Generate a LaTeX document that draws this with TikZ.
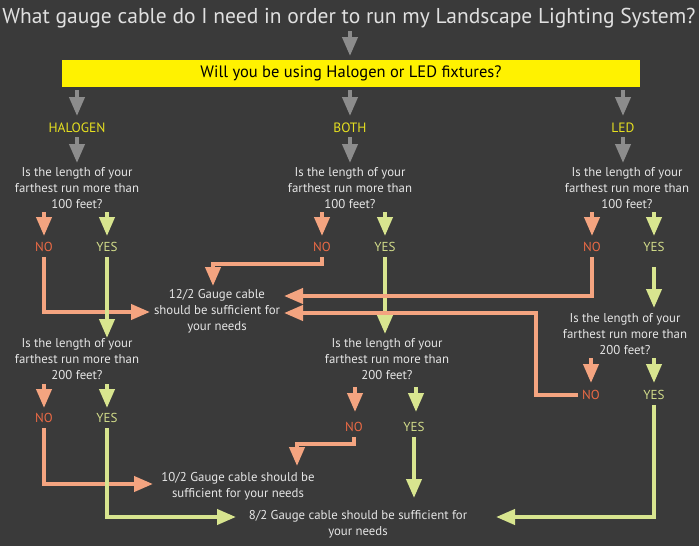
\documentclass[tikz,border=0pt]{standalone}
\usepackage{fontspec}
\setmainfont{PT Sans}
\usetikzlibrary{arrows.meta}
\definecolor{bg}{HTML}{3A3A3A}
\definecolor{gr}{HTML}{8C8C8C}
\definecolor{sal}{HTML}{F4A480}
\definecolor{lime}{HTML}{D8E58F}
\definecolor{notx}{HTML}{EB6A45}
\definecolor{yestx}{HTML}{D2DC8A}
\definecolor{ylw}{HTML}{FFF200}
\definecolor{hal}{HTML}{E6E020}
\begin{document}
\begin{tikzpicture}[x=1pt,y=-1pt,
 arr/.style={line width=4pt,-{Triangle[width=15pt,length=19pt]}},
 ga/.style={arr,draw=gr},
 sa/.style={arr,draw=sal},
 la/.style={arr,draw=lime},
 q/.style={text=white!90!black,align=center,font=\fontsize{12.8}{16}\selectfont,inner sep=1pt},
 no/.style={text=notx,font=\fontsize{13}{14}\selectfont,inner sep=1pt},
 yes/.style={text=yestx,font=\fontsize{13}{14}\selectfont,inner sep=1pt},
 cat/.style={text=hal,font=\fontsize{13.5}{14}\selectfont,inner sep=1pt}]
\fill[bg] (0,0) rectangle (699,546);
\useasboundingbox (0,0) rectangle (699,546);
\node[text=white!88!black,font=\fontsize{21.5}{24}\selectfont] (title) at (349,18) {What gauge cable do I need in order to run my Landscape Lighting System?};
\node[fill=ylw,minimum width=578pt,minimum height=27pt,inner sep=0pt,font=\fontsize{16.5}{18}\selectfont] (box) at (351,73.5) {Will you be using Halogen or LED fixtures?};
\draw[ga] (350,31) -- (350,56);
\node[cat] (hal) at (77,128) {HALOGEN};
\node[cat] (both) at (350,128) {BOTH};
\node[cat] (led) at (623,128) {LED};
\foreach \x in {77,350,623}{\draw[ga] (\x,90) -- (\x,116); \draw[ga] (\x,137) -- (\x,163);}
\node[q] (q1) at (77,188) {Is the length of your\\farthest run more than\\100 feet?};
\node[q] (q2) at (350,188) {Is the length of your\\farthest run more than\\100 feet?};
\node[q] (q3) at (627,188) {Is the length of your\\farthest run more than\\100 feet?};
% 100 ft answers
\node[no] (n1) at (44,247) {NO}; \node[yes] (y1) at (107,247) {YES};
\node[no] (n2) at (322,247) {NO}; \node[yes] (y2) at (385,247) {YES};
\node[no] (n3) at (592,247) {NO}; \node[yes] (y3) at (654,247) {YES};
\foreach \x in {44,322,592}{\draw[sa] (\x,212) -- (\x,236);}
\foreach \x in {107,385,654}{\draw[la] (\x,212) -- (\x,236);}
\node[q] (c12) at (217,311) {12/2 Gauge cable\\should be sufficient for\\your needs};
\node[q] (q4) at (77,359) {Is the length of your\\farthest run more than\\200 feet?};
\node[q] (q5) at (387,359) {Is the length of your\\farthest run more than\\200 feet?};
\node[q] (q6) at (625,334) {Is the length of your\\farthest run more than\\200 feet?};
\node[q] (c10) at (238,486) {10/2 Gauge cable should be\\sufficient for your needs};
\node[q] (c8) at (358,524) {8/2 Gauge cable should be sufficient for\\your needs};
% routes
\draw[sa] (n1.south) ++(0,4) |- (150,312);
\draw[la] (y1.south) ++(0,4) -- (107,338);
\draw[sa] (n2.south) ++(0,4) |- (213,264) -- (213,286);
\draw[la] (y2.south) ++(0,4) -- (385,334);
\draw[sa] (n3.south) ++(0,4) |- (284,296);
\draw[la] (y3.south) ++(0,14) -- (654,308);
% 200 answers
\node[no] (n4) at (44,418) {NO}; \node[yes] (y4) at (107,418) {YES};
\node[no] (n5) at (354,427) {NO}; \node[yes] (y5) at (414,427) {YES};
\node[no] (n6) at (591,395) {NO}; \node[yes] (y6) at (654,395) {YES};
\draw[sa] (44,384) -- (44,408); \draw[la] (107,384) -- (107,408);
\draw[sa] (355,387) -- (355,412); \draw[la] (416,387) -- (416,412);
\draw[sa] (591,358) -- (591,383); \draw[la] (654,358) -- (654,383);
\draw[sa] (n6.west) ++(-3,0) -| (536,313) -- (284,313);
\draw[la] (y6.south) ++(0,4) |- (496,517);
\draw[sa] (n4.south) ++(0,4) |- (153,484);
\draw[la] (y4.south) ++(0,4) |- (236,517);
\draw[sa] (n5.south) ++(0,4) |- (297,444) -- (297,466);
\draw[la] (y5.south) ++(0,4) -- (414,498);
\end{tikzpicture}
\end{document}
